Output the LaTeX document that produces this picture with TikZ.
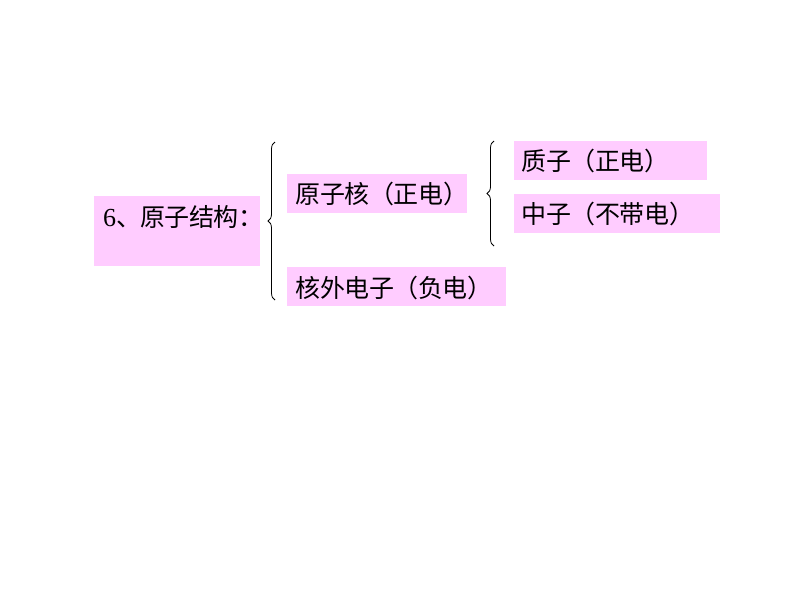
\documentclass[tikz,border=0pt]{standalone}
\usepackage{fontspec}
\setmainfont{Liberation Serif}
\newfontfamily\cjk{Noto Sans CJK SC}
\usetikzlibrary{decorations.pathreplacing}
\definecolor{boxpink}{RGB}{255,204,255}
\newcommand\cc[1]{\makebox[24.5pt][c]{#1}}
\newcommand\ccl[1]{\makebox[24.5pt][l]{#1}}
\newcommand\ccr[1]{\makebox[24.5pt][r]{#1}}
\tikzset{
  pbox/.style={fill=boxpink, draw=none, inner sep=0pt, anchor=north west},
  ptext/.style={anchor=west, inner sep=0pt, font=\fontsize{25}{25}\selectfont\cjk},
  bracebig/.style={draw=black, line width=0.8pt, decorate, decoration={brace, amplitude=7pt, mirror, raise=0pt}}
}
\begin{document}
\begin{tikzpicture}[x=1pt,y=-1pt]
\useasboundingbox (0,0) rectangle (800,600);
% boxes
\node[pbox, minimum width=166pt, minimum height=70pt] (b1) at (94,196) {};
\node[pbox, minimum width=180pt, minimum height=39pt] (b2) at (287,174) {};
\node[pbox, minimum width=193pt, minimum height=39pt] (b3) at (514,141) {};
\node[pbox, minimum width=206pt, minimum height=39pt] (b4) at (514,194) {};
\node[pbox, minimum width=219pt, minimum height=39pt] (b5) at (287,267) {};
% texts
\node[ptext] (t1) at (103,217) {{\rmfamily\fontsize{26}{26}\selectfont 6}\ccl{、}\cc{原}\cc{子}\cc{结}\cc{构}\ccl{：}};
\node[ptext] (t2) at (296,194) {\cc{原}\cc{子}\cc{核}\ccr{（}\cc{正}\cc{电}\ccl{）}};
\node[ptext] (t3) at (522,161) {\cc{质}\cc{子}\ccr{（}\cc{正}\cc{电}\ccl{）}};
\node[ptext] (t4) at (522,214) {\cc{中}\cc{子}\ccr{（}\cc{不}\cc{带}\cc{电}\ccl{）}};
\node[ptext] (t5) at (296,288) {\cc{核}\cc{外}\cc{电}\cc{子}\ccr{（}\cc{负}\cc{电}\ccl{）}};
% braces
\coordinate (br1t) at (275,142);
\coordinate (br1b) at (275,300);
\coordinate (br2t) at (494,141);
\coordinate (br2b) at (494,246);
\draw[bracebig] (br1t) -- (br1b);
\draw[bracebig] (br2t) -- (br2b);
\end{tikzpicture}
\end{document}
